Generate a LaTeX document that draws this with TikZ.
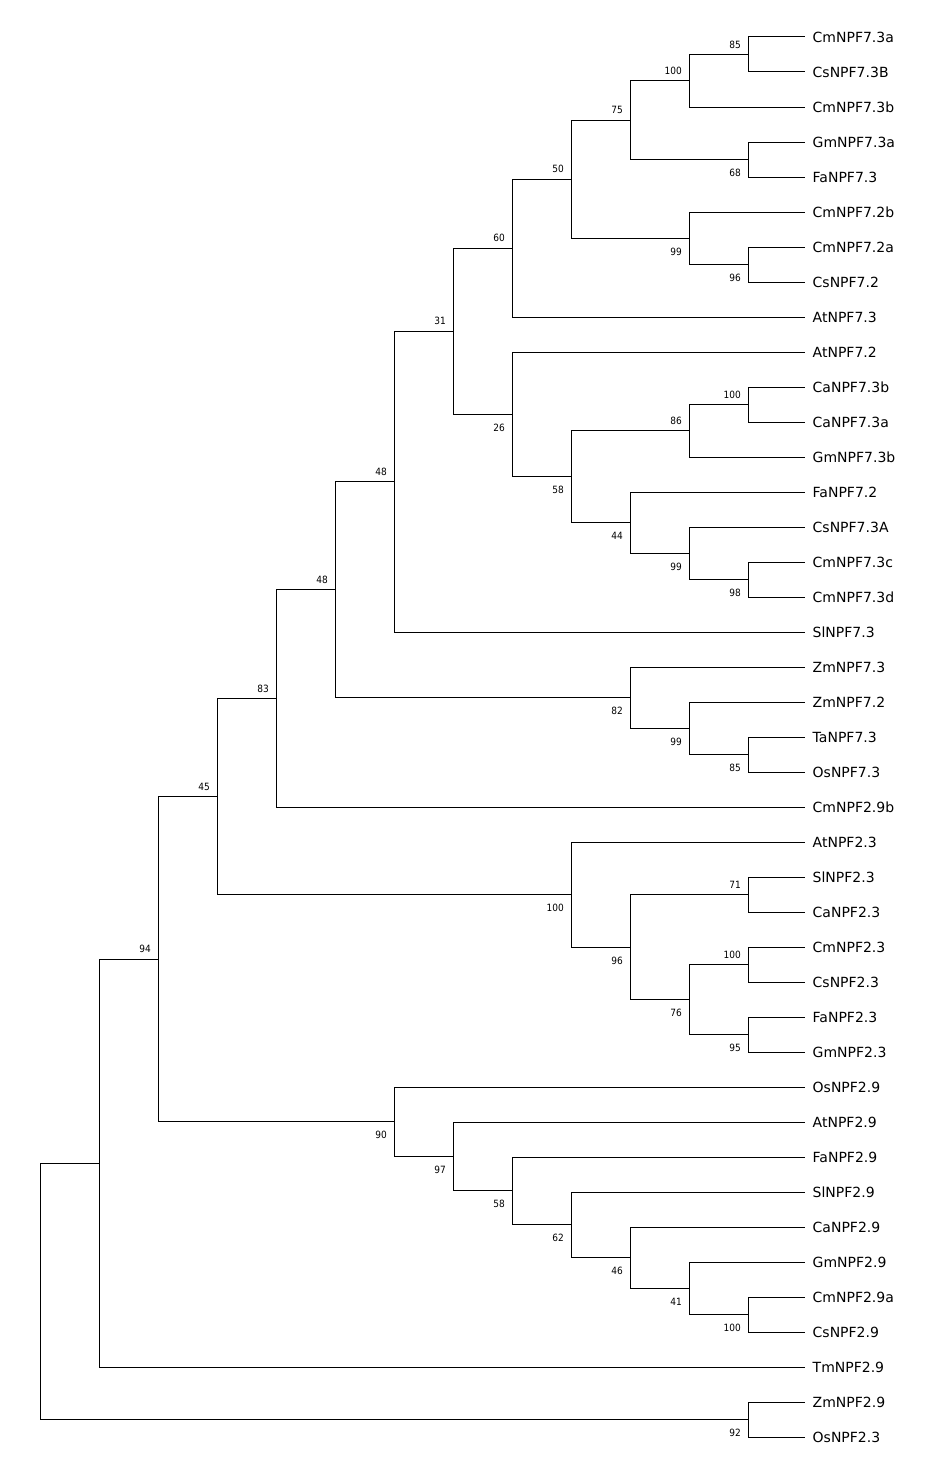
\documentclass[tikz,border=0pt]{standalone}
\usepackage{fontspec}
\setmainfont{DejaVu Sans}
\newfontfamily\numfont{DejaVu Sans Condensed}
\begin{document}
\begin{tikzpicture}[x=1pt,y=-1pt,
  br/.style={line width=1pt,black},
  leaf/.style={anchor=base west,inner sep=0pt,font=\fontsize{14}{14}\selectfont},
  bsup/.style={anchor=base east,inner sep=0pt,font=\numfont\fontsize{10}{10}\selectfont},
  bsdn/.style={anchor=base east,inner sep=0pt,font=\numfont\fontsize{10}{10}\selectfont}]
\useasboundingbox (0,0) rectangle (932,1472);
% leaves
\foreach \i/\t in {1/CmNPF7.3a,2/CsNPF7.3B,3/CmNPF7.3b,4/GmNPF7.3a,5/FaNPF7.3,6/CmNPF7.2b,7/CmNPF7.2a,8/CsNPF7.2,9/AtNPF7.3,10/AtNPF7.2,11/CaNPF7.3b,12/CaNPF7.3a,13/GmNPF7.3b,14/FaNPF7.2,15/CsNPF7.3A,16/CmNPF7.3c,17/CmNPF7.3d,18/SlNPF7.3,19/ZmNPF7.3,20/ZmNPF7.2,21/TaNPF7.3,22/OsNPF7.3,23/CmNPF2.9b,24/AtNPF2.3,25/SlNPF2.3,26/CaNPF2.3,27/CmNPF2.3,28/CsNPF2.3,29/FaNPF2.3,30/GmNPF2.3,31/OsNPF2.9,32/AtNPF2.9,33/FaNPF2.9,34/SlNPF2.9,35/CaNPF2.9,36/GmNPF2.9,37/CmNPF2.9a,38/CsNPF2.9,39/TmNPF2.9,40/ZmNPF2.9,41/OsNPF2.3}{
  \coordinate (l\i) at (805,{37+35*(\i-1)});
  \node[leaf] (t\i) at (812.5,{42.4+35*(\i-1)}) {\t};
}
% internal nodes
\coordinate (a) at (748,54.5);
\coordinate (b) at (689,80.75);
\coordinate (c) at (748,159.5);
\coordinate (d) at (630,120.125);
\coordinate (e) at (748,264.5);
\coordinate (f) at (689,238.25);
\coordinate (g) at (571,179.19);
\coordinate (h) at (512,248.09);
\coordinate (i) at (748,404.5);
\coordinate (j) at (689,430.75);
\coordinate (k) at (748,579.5);
\coordinate (l) at (689,553.25);
\coordinate (m) at (630,522.63);
\coordinate (n) at (571,476.69);
\coordinate (o) at (512,414.34);
\coordinate (p) at (453,331.22);
\coordinate (q) at (394,481.61);
\coordinate (r) at (748,754.5);
\coordinate (s) at (689,728.25);
\coordinate (t) at (630,697.63);
\coordinate (u) at (335,589.62);
\coordinate (v) at (276,698.31);
\coordinate (w) at (748,894.5);
\coordinate (x1) at (748,964.5);
\coordinate (y1) at (748,1034.5);
\coordinate (z) at (689,999.5);
\coordinate (aa) at (630,947);
\coordinate (bb) at (571,894.5);
\coordinate (cc) at (217,796.4);
\coordinate (dd) at (748,1314.5);
\coordinate (ee) at (689,1288.25);
\coordinate (ff) at (630,1257.63);
\coordinate (gg) at (571,1224.81);
\coordinate (hh) at (512,1190.91);
\coordinate (ii) at (453,1156.45);
\coordinate (jj) at (394,1121.73);
\coordinate (kk) at (158,959.06);
\coordinate (ll) at (99,1163.03);
\coordinate (mm) at (748,1419.5);
\coordinate (root) at (40,1291.27);
% branches
\foreach \p/\c in {a/l1,a/l2,b/a,b/l3,c/l4,c/l5,d/b,d/c,e/l7,e/l8,f/l6,f/e,g/d,g/f,h/g,h/l9,
  i/l11,i/l12,j/i,j/l13,k/l16,k/l17,l/l15,l/k,m/l14,m/l,n/j,n/m,o/l10,o/n,p/h,p/o,q/p,q/l18,
  r/l21,r/l22,s/l20,s/r,t/l19,t/s,u/q,u/t,v/u,v/l23,
  w/l25,w/l26,x1/l27,x1/l28,y1/l29,y1/l30,z/x1,z/y1,aa/w,aa/z,bb/l24,bb/aa,cc/v,cc/bb,
  dd/l37,dd/l38,ee/l36,ee/dd,ff/l35,ff/ee,gg/l34,gg/ff,hh/l33,hh/gg,ii/l32,ii/hh,jj/l31,jj/ii,
  kk/cc,kk/jj,ll/kk,ll/l39,mm/l40,mm/l41,root/ll,root/mm}{
  \draw[br] (\p) |- (\c);
}
% bootstrap labels (above: upper child; below: lower child)
\foreach \c/\v in {a/85,b/100,d/75,g/50,h/60,p/31,q/48,u/48,v/83,cc/45,kk/94,i/100,j/86,w/71,x1/100}{
  \node[bsup] at ([xshift=-7pt,yshift=6.3pt]\c) {\v};
}
\foreach \c/\v in {c/68,e/96,f/99,k/98,l/99,m/44,n/58,o/26,r/85,s/99,t/82,y1/95,z/76,aa/96,bb/100,
  dd/100,ee/41,ff/46,gg/62,hh/58,ii/97,jj/90,mm/92}{
  \node[bsdn] at ([xshift=-7pt,yshift=-17pt]\c) {\v};
}
\end{tikzpicture}
\end{document}
